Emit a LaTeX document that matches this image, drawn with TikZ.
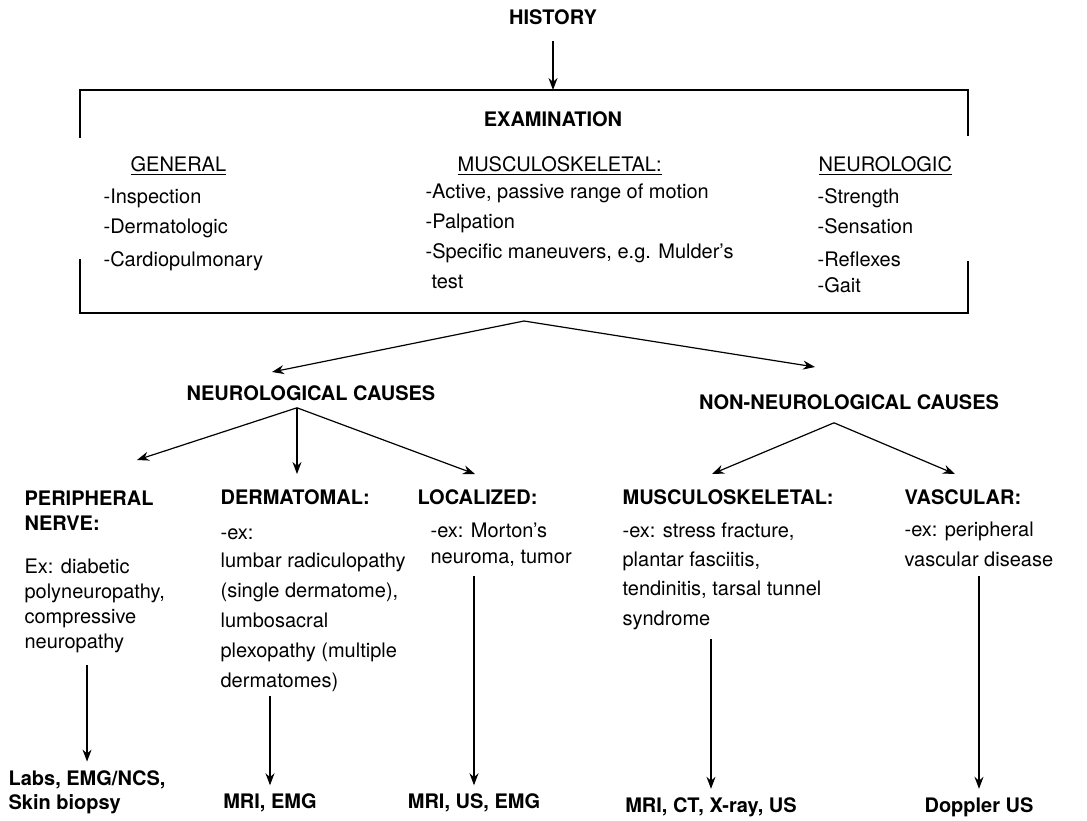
\documentclass[tikz,border=0pt]{standalone}
\usepackage{fontspec}
\setmainfont{TeX Gyre Heros}
\usetikzlibrary{arrows.meta}

\tikzset{
	lsp/.style={font=\fontsize{10}{#1}\selectfont},
	hd/.style={font=\fontsize{10}{#1}\selectfont\bfseries},
	hd/.default=12.5pt,
	blk/.style={align=left,anchor=base west,inner sep=0pt},
	res/.style={font=\fontsize{10}{12}\selectfont\bfseries,inner sep=4pt},
	arr/.style={-{Stealth[length=6pt,width=4.5pt]},line width=0.6pt}
}

\begin{document}
\begin{tikzpicture}[x=0.5pt,y=-0.5pt,line width=0.6pt]
	\useasboundingbox (0,0) rectangle (1087,820);
	
	% history and examination box
	\node[hd] (hist) at (553,17) {HISTORY};
	\node[minimum width=444pt,minimum height=111.5pt,inner sep=0pt,outer sep=0pt] (exbox) at (524,201.5) {};
	\node[hd] (exam) at (553,119) {EXAMINATION};
	
	\draw ([yshift=-24pt]exbox.north west) -- (exbox.north west) -- (exbox.north east) -- ([yshift=-23pt]exbox.north east);
	\draw ([yshift=27pt]exbox.south west) -- (exbox.south west) -- (exbox.south east) -- ([yshift=26pt]exbox.south east);
	
	\draw[arr,shorten <=4.5pt] (hist) -- (hist |- exbox.north);
	
	% blocks sit on the baseline of their last line
	\node[blk,lsp=15pt] (gen) at (130,171) {\underline{GENERAL}};
	\node[blk,lsp=15pt] (genlist) at (103,266) {-Inspection\\-Dermatologic\\[1.5pt]-Cardiopulmonary};
	
	\node[blk,lsp=15pt] (msk) at (457,171) {\underline{MUSCULOSKELETAL:}};
	\node[blk,lsp=15pt] (msklist) at (425,288) {-Active, passive range of motion\\-Palpation\\-Specific maneuvers, e.g. Mulder's\\\hspace*{3pt}test};
	
	\node[blk,lsp=15pt] (neu) at (818,171) {\underline{NEUROLOGIC}};
	\node[blk,lsp=15pt] (neulist) at (817,292) {-Strength\\-Sensation\\[1.5pt]-Reflexes\\[-2pt]-Gait};
	
	% two kinds of causes
	\coordinate (fork) at ([yshift=-4pt]exbox.south);
	\node[hd] (neuro) at (311,393) {NEUROLOGICAL CAUSES};
	\node[hd] (nonneuro) at (849,402) {NON-NEUROLOGICAL CAUSES};
	\coordinate (neurotip) at (272,372);
	\coordinate (nontip) at (815,367);
	\draw[arr] (fork) -- (neurotip);
	\draw[arr] (fork) -- (nontip);
	
	% neurological branches
	\node[blk,hd] (per) at (24,530) {PERIPHERAL\\NERVE:};
	\node[blk,lsp=12.5pt] (pertxt) at (24,648) {Ex: diabetic\\polyneuropathy,\\compressive\\neuropathy};
	
	\node[blk,hd] (derm) at (220,504) {DERMATOMAL:};
	\node[blk,lsp=15pt] (dermtxt) at (220,687) {-ex:\\[-1pt]lumbar radiculopathy\\(single dermatome),\\lumbosacral\\plexopathy (multiple\\dermatomes)};
	
	\node[blk,hd] (loc) at (417,504) {LOCALIZED:};
	\node[blk,lsp=13pt] (loctxt) at (430,563) {-ex: Morton's\\neuroma, tumor};
	
	\coordinate (pertip) at (137,460);
	\coordinate (dermtip) at (297,474);
	\coordinate (loctip) at (475,474);
	\foreach \t in {pertip,dermtip,loctip}
	\draw[arr] ([xshift=-7pt]neuro.south) -- (\t);
	
	% non-neurological branches
	\node[blk,hd] (mus) at (622,504) {MUSCULOSKELETAL:};
	\node[blk,lsp=14.6pt] (mustxt) at (622,625) {-ex: stress fracture,\\plantar fasciitis,\\tendinitis, tarsal tunnel\\syndrome};
	
	\node[blk,hd] (vas) at (904,504) {VASCULAR:};
	\node[blk,lsp=14.6pt] (vastxt) at (904,566) {-ex: peripheral\\vascular disease};
	
	\coordinate (mustip) at (712,474);
	\coordinate (vastip) at (955,474);
	\foreach \t in {mustip,vastip}
	\draw[arr] ([xshift=-7.5pt,yshift=-3pt]nonneuro.south) -- (\t);
	
	% tests
	\node[res,align=left,anchor=base west] (labs) at (0,809) {Labs, EMG/NCS,\\Skin biopsy};
	\node[res] (mriemg) at (270,803) {MRI, EMG};
	\node[res] (mriusemg) at (474,803) {MRI, US, EMG};
	\node[res] (mrict) at (711,807) {MRI, CT, X-ray, US};
	\node[res] (doppler) at (979,807) {Doppler US};
	
	\foreach \a/\b/\s in {pertxt/labs/6pt,dermtxt/mriemg/2pt,loctxt/mriusemg/4.5pt,mustxt/mrict/4.5pt,vastxt/doppler/4.5pt}
	\draw[arr,shorten <=\s] (\a.south -| \b.north) -- (\b);
\end{tikzpicture}
\end{document}
